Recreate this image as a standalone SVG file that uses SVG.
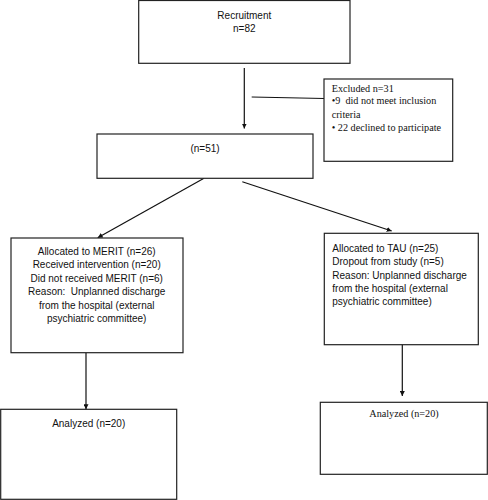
<svg xmlns="http://www.w3.org/2000/svg" width="488" height="500" viewBox="0 0 488 500">
<defs>
<style>
.box{fill:#fff;stroke:#222;stroke-width:1.2}
.s{font-family:"Liberation Sans",Arial,sans-serif;font-size:10px;fill:#111}
.r{font-family:"Liberation Serif","Times New Roman",serif;font-size:10.2px;fill:#111}
.c{text-anchor:middle}
.ln{stroke:#111;stroke-width:1.2;fill:none}
</style>
<marker id="ah" viewBox="0 0 10 10" refX="10" refY="5" markerWidth="5" markerHeight="5" markerUnits="userSpaceOnUse" orient="auto"><path d="M0,0 L10,5 L0,10 Z" fill="#111"/></marker>
</defs>
<rect width="488" height="500" fill="#fff"/>
<g id="connectors">
<line class="ln" x1="244.3" y1="68" x2="244.3" y2="128.5" marker-end="url(#ah)"/>
<line class="ln" x1="251.7" y1="97" x2="324" y2="98.5"/>
<line class="ln" x1="204" y1="178.3" x2="97.7" y2="237.7" marker-end="url(#ah)"/>
<line class="ln" x1="242.3" y1="181.7" x2="391.7" y2="231" marker-end="url(#ah)"/>
<line class="ln" x1="86" y1="352.7" x2="86" y2="409.3" marker-end="url(#ah)"/>
<line class="ln" x1="402.3" y1="342" x2="402.3" y2="396" marker-end="url(#ah)"/>
</g>
<g id="recruitment">
<rect class="box" x="138.7" y="0.5" width="211.3" height="62.8"/>
<text class="s c" x="244.3" y="18.5">Recruitment</text>
<text class="s c" x="244.3" y="32">n=82</text>
</g>
<g id="excluded">
<rect class="box" x="324" y="79" width="128.7" height="82.3"/>
<text class="r" x="331.7" y="92">Excluded n=31</text>
<text class="r" x="331.7" y="104" xml:space="preserve">•9  did not meet inclusion</text>
<text class="r" x="331.7" y="117.5">criteria</text>
<text class="r" x="331.7" y="130.5">• 22 declined to participate</text>
</g>
<g id="n51">
<rect class="box" x="97" y="134" width="216" height="44.3"/>
<text class="s c" x="205" y="152">(n=51)</text>
</g>
<g id="merit">
<rect class="box" x="11" y="238" width="172" height="114.7"/>
<text class="s c" x="96.7" y="255">Allocated to MERIT (n=26)</text>
<text class="s c" x="96.7" y="268.4">Received intervention (n=20)</text>
<text class="s c" x="96.7" y="281.8">Did not received MERIT (n=6)</text>
<text class="s c" x="96.7" y="295.2" xml:space="preserve">Reason:  Unplanned discharge</text>
<text class="s c" x="96.7" y="308.6">from the hospital (external</text>
<text class="s c" x="96.7" y="322">psychiatric committee)</text>
</g>
<g id="tau">
<rect class="box" x="324.3" y="233.3" width="154" height="111.4"/>
<text class="s" x="332.3" y="251.7">Allocated to TAU (n=25)</text>
<text class="s" x="332.3" y="265.1">Dropout from study (n=5)</text>
<text class="s" x="332.3" y="278.5">Reason: Unplanned discharge</text>
<text class="s" x="332.3" y="291.9">from the hospital (external</text>
<text class="s" x="332.3" y="305.3">psychiatric committee)</text>
</g>
<g id="analyzed-merit">
<rect class="box" x="0.7" y="409.3" width="176" height="90"/>
<text class="s c" x="88.7" y="426.7">Analyzed (n=20)</text>
</g>
<g id="analyzed-tau">
<rect class="box" x="320.3" y="402.3" width="167" height="72"/>
<text class="r c" x="404" y="417.3">Analyzed (n=20)</text>
</g>
</svg>
